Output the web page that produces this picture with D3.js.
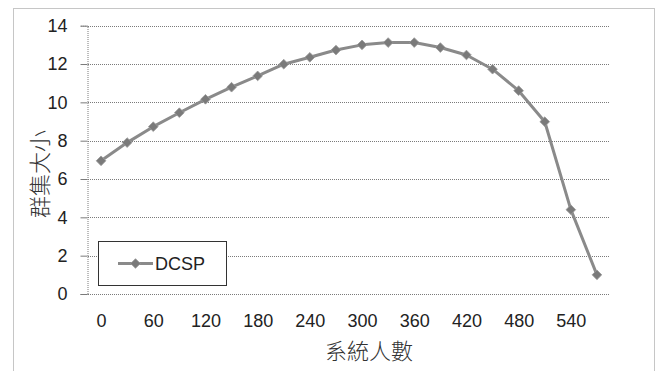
<!DOCTYPE html>
<html>
<head>
<meta charset="utf-8">
<script src="https://cdn.jsdelivr.net/npm/d3@7"></script>
<style>
  html, body { margin: 0; padding: 0; background: #fff; }
  svg { display: block; }
</style>
</head>
<body>
<svg id="chart" width="658" height="371"></svg>
<script>
// System size (number of users) on the category axis
const users = [0, 30, 60, 90, 120, 150, 180, 210, 240, 270, 300, 330, 360, 390, 420, 450, 480, 510, 540, 570];
// Cluster size for the DCSP scheme
const dcsp = [6.95, 7.9, 8.73, 9.46, 10.16, 10.79, 11.38, 11.99, 12.35, 12.73, 13.0, 13.12, 13.12, 12.86, 12.47, 11.73, 10.61, 8.99, 4.4, 1.0];
const xTickLabels = [0, 60, 120, 180, 240, 300, 360, 420, 480, 540];
const yTicks = [0, 2, 4, 6, 8, 10, 12, 14];
const seriesName = "DCSP";

const svg = d3.select("#chart");
const font = "'Liberation Sans', Arial, sans-serif";
const cjk = "'Noto Sans CJK TC', 'Noto Sans CJK SC', sans-serif";

const plot = { left: 88, right: 610, top: 25.7, bottom: 294 };

const x = d3.scalePoint().domain(users).range([plot.left, plot.right]).padding(0.5);
const y = d3.scaleLinear().domain([0, 14]).range([plot.bottom, plot.top]);

// Outer chart frame
svg.append("rect")
  .attr("x", 13.5).attr("y", 8.5).attr("width", 641).attr("height", 380)
  .attr("fill", "none").attr("stroke", "#8c8c8c").attr("stroke-width", 1)
  .attr("stroke-dasharray", "1,1");

// Horizontal gridlines
svg.append("g").selectAll("line").data(yTicks).join("line")
  .attr("x1", plot.left).attr("x2", plot.right)
  .attr("y1", d => Math.round(y(d)) + 0.5).attr("y2", d => Math.round(y(d)) + 0.5)
  .attr("stroke", "#7a7a7a").attr("stroke-width", 1).attr("stroke-dasharray", "1,1");

// Y axis
const yAxis = svg.append("g")
  .attr("transform", `translate(${plot.left - 0.5},0)`)
  .call(d3.axisLeft(y).tickValues(yTicks).tickSize(7).tickPadding(13).tickFormat(d3.format("d")));
yAxis.select(".domain").attr("stroke", "#7a7a7a").attr("stroke-dasharray", "1,1");
yAxis.selectAll(".tick line").attr("stroke", "#7a7a7a");
yAxis.selectAll(".tick text").attr("font-family", font).attr("font-size", 18).attr("fill", "#222");

// X axis labels (every other category)
const xAxis = svg.append("g")
  .attr("transform", `translate(0,${plot.bottom})`)
  .call(d3.axisBottom(x).tickValues(xTickLabels).tickSize(0).tickPadding(20));
xAxis.select(".domain").remove();
xAxis.selectAll(".tick text").attr("font-family", font).attr("font-size", 18).attr("fill", "#222");

// Axis titles
svg.append("text")
  .attr("x", (323 + 415) / 2).attr("y", 359)
  .attr("text-anchor", "middle")
  .attr("font-family", cjk).attr("font-weight", 300).attr("font-size", 22).attr("fill", "#333")
  .text("系統人數");

svg.append("text")
  .attr("transform", "translate(48,174) rotate(-90)")
  .attr("text-anchor", "middle")
  .attr("font-family", cjk).attr("font-weight", 300).attr("font-size", 22).attr("fill", "#333")
  .text("群集大小");

// Series line
const line = d3.line().x((d, i) => x(users[i])).y(d => y(d));
svg.append("path")
  .datum(dcsp)
  .attr("d", line)
  .attr("fill", "none").attr("stroke", "#8a8a8a").attr("stroke-width", 3)
  .attr("stroke-linejoin", "round");

// Diamond markers
const diamond = d3.symbol().type(d3.symbolDiamond2).size(60);
svg.append("g").selectAll("path").data(dcsp).join("path")
  .attr("transform", (d, i) => `translate(${x(users[i])},${y(d)})`)
  .attr("d", diamond)
  .attr("fill", "#7a7a7a").attr("stroke", "#9a9a9a").attr("stroke-width", 0.8);

// Legend
const legend = svg.append("g");
legend.append("rect")
  .attr("x", 98.5).attr("y", 241.5).attr("width", 128).attr("height", 44)
  .attr("fill", "#fff").attr("stroke", "#333").attr("stroke-width", 1);
legend.append("line")
  .attr("x1", 118).attr("x2", 153).attr("y1", 263.5).attr("y2", 263.5)
  .attr("stroke", "#8a8a8a").attr("stroke-width", 3);
legend.append("path")
  .attr("transform", "translate(135.5,263.5)")
  .attr("d", diamond)
  .attr("fill", "#7a7a7a").attr("stroke", "#9a9a9a").attr("stroke-width", 0.8);
legend.append("text")
  .attr("x", 155).attr("y", 270)
  .attr("font-family", font).attr("font-size", 18).attr("fill", "#222")
  .text(seriesName);
</script>
</body>
</html>
